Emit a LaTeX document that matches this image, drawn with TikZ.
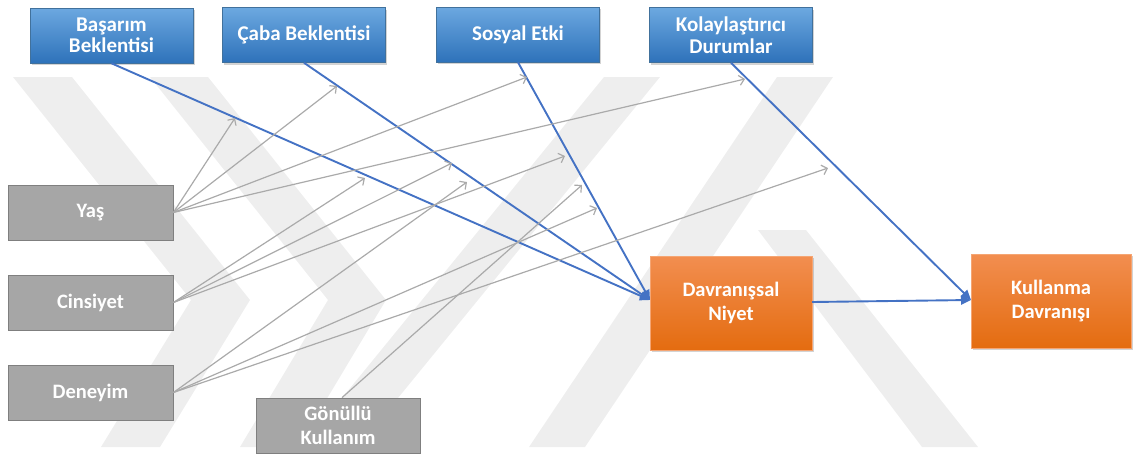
\documentclass[tikz,border=0pt]{standalone}
\usepackage{fontspec}
\setmainfont{Carlito}
\usetikzlibrary{arrows.meta,shadows,calc}

\definecolor{bluetop}{RGB}{108,168,224}
\definecolor{bluebot}{RGB}{46,114,186}
\definecolor{blueedge}{RGB}{65,113,156}
\definecolor{orangetop}{RGB}{242,142,80}
\definecolor{orangebot}{RGB}{228,108,16}
\definecolor{greyfill}{RGB}{166,166,166}
\definecolor{greyedge}{RGB}{127,127,127}
\definecolor{linkblue}{RGB}{68,114,196}
\definecolor{modgrey}{RGB}{170,170,170}
\definecolor{wmark}{RGB}{238,238,238}

\tikzset{
  box/.style={rectangle, inner sep=0pt, align=center, text=white,
    font=\fontsize{20.5}{24.5}\selectfont\bfseries},
  construct/.style={box, minimum width=163pt, minimum height=55pt,
    top color=bluetop, bottom color=bluebot, draw=blueedge, line width=0.6pt,
    font=\fontsize{21}{21.5}\selectfont\bfseries,
    drop shadow={shadow xshift=1.5pt, shadow yshift=-2pt, opacity=0.35}},
  moderator/.style={box, minimum width=165pt, minimum height=55pt,
    fill=greyfill, draw=greyedge, line width=0.8pt},
  outcome/.style={box, minimum width=162pt, minimum height=94pt,
    top color=orangetop, bottom color=orangebot, draw=orangetop!80!white, line width=0.4pt,
    drop shadow={shadow xshift=1.5pt, shadow yshift=-2pt, opacity=0.35}},
  mainpath/.style={draw=linkblue, line width=1.9pt, -{Triangle[length=10pt,width=9pt]}},
  modpath/.style={draw=modgrey, line width=1.2pt, -{Straight Barb[length=5pt,width=10pt,line width=1.2pt]}},
}

\begin{document}
\begin{tikzpicture}[x=1pt,y=-1pt]
\useasboundingbox (0,0) rectangle (1133,456);

% background emblem
\fill[wmark] (13,77) -- (72,77) -- (250,300) -- (160,447) -- (101,447) -- (191,300) -- cycle;
\fill[wmark] (150,77) -- (208,77) -- (386,300) -- (298,447) -- (240,447) -- (328,300) -- cycle;
\fill[wmark] (604,77) -- (660,77) -- (358,447) -- (302,447) -- cycle;
\fill[wmark] (777,77) -- (833,77) -- (585,447) -- (529,447) -- cycle;
\fill[wmark] (758,230) -- (806,230) -- (978,447) -- (922,447) -- cycle;

% constructs
\node[construct] (bas) at (111.5,35.5) {Başarım\\Beklentisi};
\node[construct] (cab) at (304,35) {Çaba Beklentisi};
\node[construct] (sos) at (518,34.5) {Sosyal Etki};
\node[construct] (kol) at (731,35) {Kolaylaştırıcı\\Durumlar};

% moderators
\node[moderator] (yas) at (90.5,212.5) {Yaş};
\node[moderator] (cin) at (90.5,302.5) {Cinsiyet};
\node[moderator] (den) at (90.5,392.5) {Deneyim};
\node[moderator, minimum width=164pt] (gon) at (338,425.5) {Gönüllü\\Kullanım};

% outcomes
\node[outcome] (dav) at (731,303) {Davranışsal\\Niyet};
\node[outcome, minimum width=160pt] (kul) at (1051,301) {Kullanma\\Davranışı};

% arrival points
\coordinate (davin) at (650,300);
\coordinate (kulin) at (971,300);

% main paths
\draw[mainpath] (bas.south) -- (davin);
\draw[mainpath] (cab.south) -- (davin);
\draw[mainpath] (sos.south) -- (davin);
\draw[mainpath] (kol.south) -- (kulin);
\draw[mainpath] (dav.east |- 0,302) -- (kulin);

% moderating effects
\coordinate (yb) at (235,118);
\coordinate (yc) at (337,86);
\coordinate (ys) at (527,77);
\coordinate (yk) at (745,79);
\coordinate (cb) at (365,178);
\coordinate (cc) at (452,163);
\coordinate (cs) at (565,156);
\coordinate (dc) at (467,182);
\coordinate (ds) at (597,208);
\coordinate (dk) at (828,168);
\coordinate (gs) at (582,185);

\foreach \t in {yb,yc,ys,yk} \draw[modpath] (yas.east) -- (\t);
\foreach \t in {cb,cc,cs} \draw[modpath] (cin.east) -- (\t);
\foreach \t in {dc,ds,dk} \draw[modpath] (den.east) -- (\t);
\draw[modpath] (gon.north) ++(4,0) -- (gs);
\end{tikzpicture}
\end{document}
